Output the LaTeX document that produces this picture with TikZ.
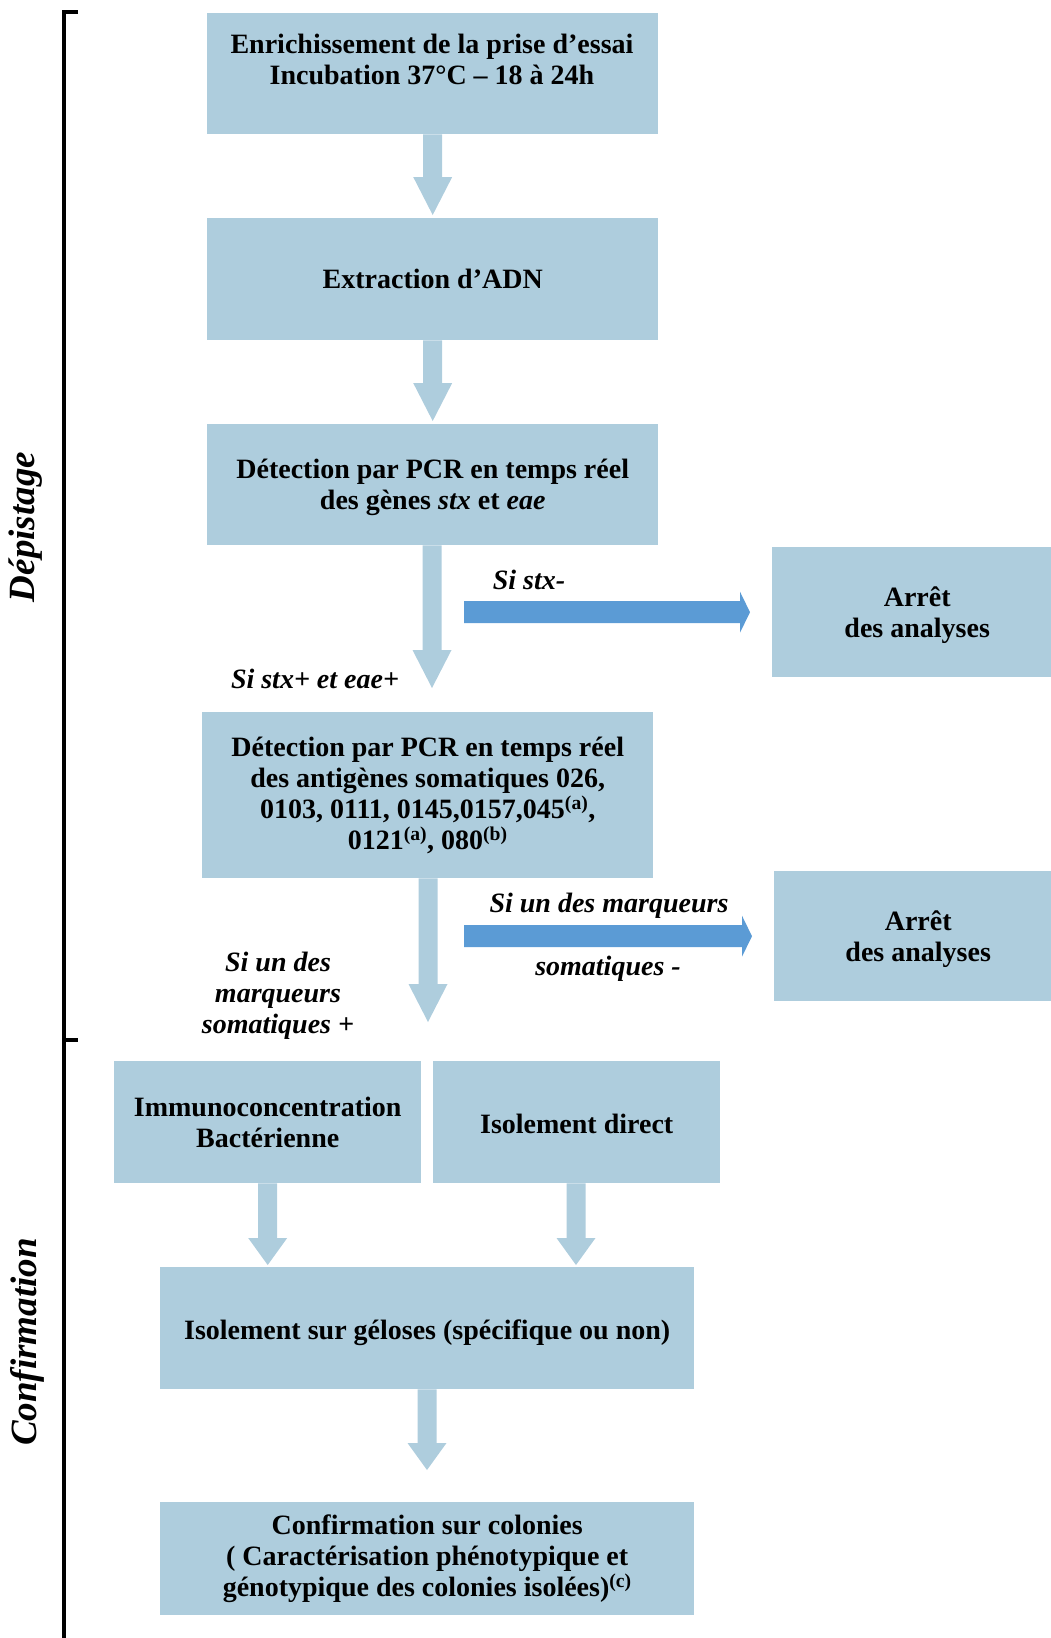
\documentclass[tikz,border=0pt]{standalone}
\usepackage{fontspec}
\setmainfont{Liberation Serif}
\usetikzlibrary{calc}
\definecolor{boxc}{RGB}{174,205,221}
\definecolor{bluec}{RGB}{91,155,213}
% block arrow pointing down: #1 start anchor, #2 tip coordinate, #3 head length
\newcommand\blkdown[3]{%
  \fill[boxc] ($(#2 |- #1)+(-9.5,0)$) -- ($(#2 |- #1)+(9.5,0)$) -- ($(#2)+(9.5,-#3)$)
    -- ($(#2)+(19.5,-#3)$) -- (#2) -- ($(#2)+(-19.5,-#3)$) -- ($(#2)+(-9.5,-#3)$) -- cycle;}
% block arrow pointing right: #1 start coordinate, #2 tip coordinate, #3 head length
\newcommand\blkright[3]{%
  \fill[bluec] ($(#1)+(0,-11)$) -- ($(#2)+(-#3,-11)$) -- ($(#2)+(-#3,-20.5)$) -- (#2)
    -- ($(#2)+(-#3,20.5)$) -- ($(#2)+(-#3,11)$) -- ($(#1)+(0,11)$) -- cycle;}
\tikzset{
  box/.style={fill=boxc, draw=none, inner sep=0pt, anchor=north west},
  txt/.style={align=center, inner sep=0pt, font=\fontsize{28}{31}\selectfont\bfseries},
  lbl/.style={align=center, inner sep=0pt, font=\fontsize{28}{31}\selectfont\bfseries\itshape},
  side/.style={inner sep=0pt, rotate=90, font=\fontsize{37}{40}\selectfont\bfseries\itshape},
  brack/.style={line width=4pt}
}
\begin{document}
\begin{tikzpicture}[x=1pt, y=-1pt]
\path[use as bounding box] (0,0) rectangle (1051,1638);
\clip (0,0) rectangle (1051,1638);

% boxes
\node[box, minimum width=451pt, minimum height=121.5pt] (b1) at (207,12.5) {};
\node[box, minimum width=451pt, minimum height=122pt] (b2) at (207,218) {};
\node[box, minimum width=451pt, minimum height=121pt] (b3) at (207,424) {};
\node[box, minimum width=451pt, minimum height=166pt] (b4) at (202,712) {};
\node[box, minimum width=290pt, minimum height=130pt] (a1) at (772,547) {};
\node[box, minimum width=288pt, minimum height=130pt] (a2) at (774,871) {};
\node[box, minimum width=307pt, minimum height=122pt] (im) at (114,1061) {};
\node[box, minimum width=287pt, minimum height=122pt] (di) at (433,1061) {};
\node[box, minimum width=534pt, minimum height=122pt] (ge) at (160,1267) {};
\node[box, minimum width=534pt, minimum height=113pt] (fi) at (160,1502) {};

% bracket
\draw[brack] (78,12) -- (64,12) -- (64,1650);
\draw[brack] (64,1040) -- (78,1040);

% arrows
\coordinate (p1) at ($(b2.north)+(0,-3)$);
\coordinate (p2) at ($(b3.north)+(0,-3)$);
\coordinate (p3) at (432,688);
\coordinate (p4) at (428,1022);
\coordinate (p5) at ($(im.south |- ge.north)+(0,-2)$);
\coordinate (p6) at (576,1265);
\coordinate (p7) at (427,1470);
\blkdown{b1.south}{p1}{38}
\blkdown{b2.south}{p2}{38}
\blkdown{b3.south}{p3}{38}
\blkdown{b4.south}{p4}{38}
\blkdown{im.south}{p5}{27}
\blkdown{di.south}{p6}{27}
\blkdown{ge.south}{p7}{27}

\coordinate (q1s) at (464,612);
\coordinate (q1) at ($(a1.west)+(-22,0)$);
\coordinate (q2s) at (464,936);
\coordinate (q2) at ($(a2.west)+(-22,0)$);
\blkright{q1s}{q1}{10}
\blkright{q2s}{q2}{10}

% texts
\node[txt] (t1) at (432,59) {Enrichissement de la prise d’essai\\Incubation 37°C – 18 à 24h};
\node[txt] (t2) at (b2.center) {Extraction d’ADN};
\node[txt] (t3) at ($(b3.center)+(0,3)$) {Détection par PCR en temps réel\\des gènes \textit{stx} et \textit{eae}};
\node[txt] (t4) at (b4.center) {Détection par PCR en temps réel\\des antigènes somatiques 026,\\0103, 0111, 0145,0157,045\textsuperscript{(a)},\\0121\textsuperscript{(a)}, 080\textsuperscript{(b)}};
\node[txt] (t5) at ($(a1.center)+(0,3)$) {Arrêt\\des analyses};
\node[txt] (t6) at ($(a2.center)+(0,3)$) {Arrêt\\des analyses};
\node[txt] (t7) at (im.center) {Immunoconcentration\\Bactérienne};
\node[txt] (t8) at ($(di.center)+(0,2)$) {Isolement direct};
\node[txt] (t9) at ($(ge.center)+(0,5)$) {Isolement sur géloses (spécifique ou non)};
\node[txt] (t10) at (fi.center) {Confirmation sur colonies\\( Caractérisation phénotypique et\\génotypique des colonies isolées)\textsuperscript{(c)}};

% labels
\node[lbl] (l1) at (529,580) {Si stx-};
\node[lbl] (l2) at (315,679) {Si stx+ et eae+};
\node[lbl] (l3) at (609,906) {Si un des marqueurs};
\node[lbl] (l4) at (608,969) {somatiques -};
\node[lbl] (l5) at (278,996) {Si un des\\marqueurs\\somatiques +};

\node[side] (dep) at (26,527) {Dépistage};
\node[side] (conf) at (27,1342) {Confirmation};
\end{tikzpicture}
\end{document}
